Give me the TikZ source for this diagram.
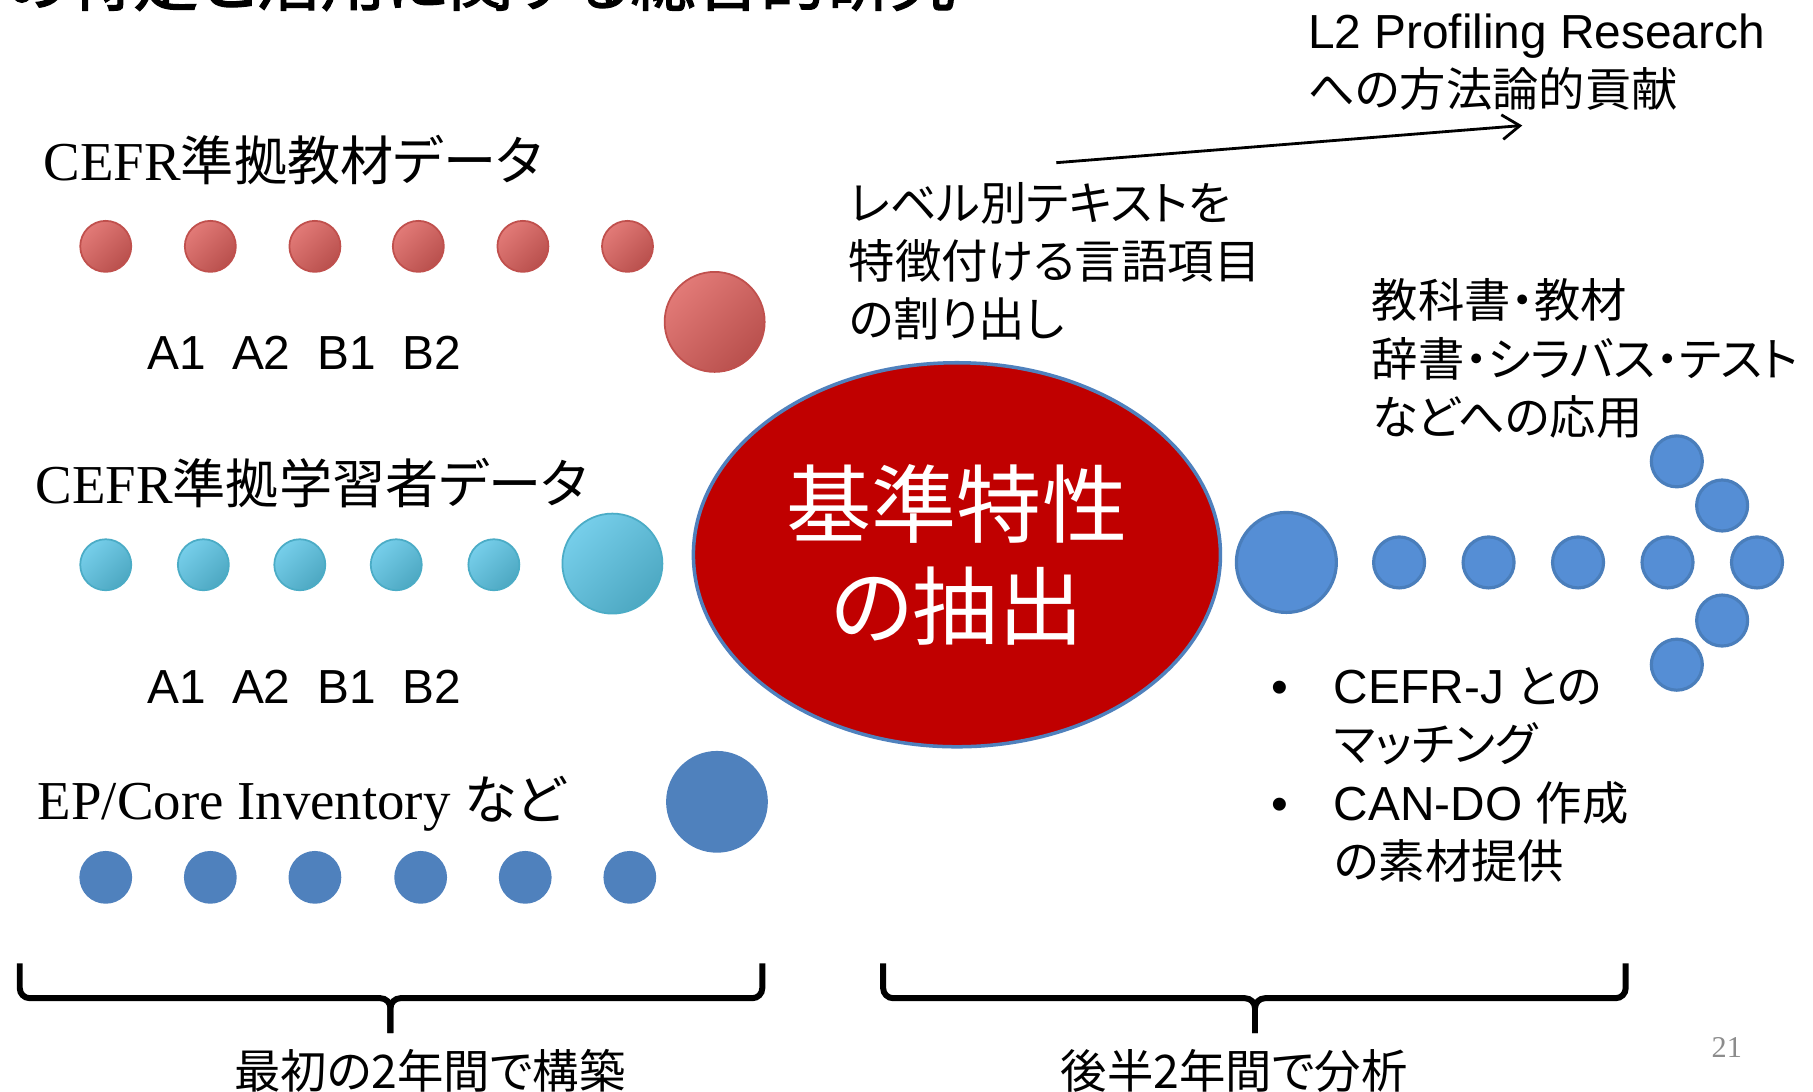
\documentclass[tikz,border=0pt]{standalone}
\usepackage{fontspec}
\setmainfont{Liberation Serif}
\setsansfont{Liberation Sans}
\newfontfamily\jp[Scale=0.97, RawFeature=+palt]{Noto Sans CJK JP}
\newfontfamily\jpbold[FakeBold=2, RawFeature=+palt]{Noto Sans CJK JP}
\definecolor{redlight}{HTML}{E27A77}
\definecolor{reddark}{HTML}{B9504D}
\definecolor{redline}{HTML}{C0504D}
\definecolor{cyanlight}{HTML}{76CEEA}
\definecolor{cyandark}{HTML}{4DA8C2}
\definecolor{cyanline}{HTML}{4BACC6}
\definecolor{blueleft}{HTML}{4F81BD}
\definecolor{blueright}{HTML}{558ED5}
\definecolor{blueline}{HTML}{4A7EBB}
\definecolor{core}{HTML}{C00000}
\definecolor{pagegrey}{HTML}{8C8C8C}
\usetikzlibrary{arrows.meta}
\usetikzlibrary{shapes.geometric}
\tikzstyle{dot}=[circle, inner sep=0pt, outer sep=0pt, minimum size=5.1mm, line width=0.5pt]
\tikzstyle{bigdot}=[minimum size=10mm]
\tikzstyle{reddot}=[dot, draw=redline, top color=redlight, bottom color=reddark, shading angle=45]
\tikzstyle{cyandot}=[dot, draw=cyanline, top color=cyanlight, bottom color=cyandark, shading angle=45]
\tikzstyle{leftdot}=[dot, draw=blueleft, fill=blueleft]
\tikzstyle{rightdot}=[dot, draw=blueline, fill=blueright, line width=0.9pt]
\tikzstyle{head}=[inner sep=0pt, font=\fontsize{15.6}{18}\selectfont\rmfamily]
\tikzstyle{txt}=[inner sep=0pt, align=left, font=\fontsize{13.6}{16.6}\selectfont\sffamily]
\tikzstyle{jtxt}=[txt, font=\fontsize{13.6}{16.6}\selectfont\jp]
\tikzstyle{brace}=[line width=1.7pt, rounded corners=1mm]

\begin{document}
\begin{tikzpicture}[x=0.1162mm, y=-0.1162mm]
    \path [use as bounding box] (0,0) rectangle (1560.2,938.9);
    \clip (0,0) rectangle (1560.2,938.9);
    \fill [white] (0,0) rectangle (1560.2,938.9);
    % title line, cut by the top edge
    \node [inner sep=0pt, anchor=base east, font=\fontsize{18.5}{20}\selectfont\jpbold] (title) at (823,4.5) {の特定と活用に関する総合的研究};
    % materials
    \node [head, anchor=base west] (hmat) at (37,155) {CEFR{\jp 準拠教材データ}};
    \node [reddot] (m1) at (91,212) {};
    \node [reddot] (m2) at (181,212) {};
    \node [reddot] (m3) at (271,212) {};
    \node [reddot] (m4) at (360,212) {};
    \node [reddot] (m5) at (450,212) {};
    \node [reddot] (m6) at (540,212) {};
    \node [reddot, bigdot] (mbig) at (615,277) {};
    \node [txt, anchor=base west] (lvm) at (126,318) {A1~~A2~~B1~~B2};
    % learners
    \node [head, anchor=base west] (hlearn) at (30,433) {CEFR{\jp 準拠学習者データ}};
    \node [cyandot] (l1) at (91,486) {};
    \node [cyandot] (l2) at (175,486) {};
    \node [cyandot] (l3) at (258,486) {};
    \node [cyandot] (l4) at (341,486) {};
    \node [cyandot] (l5) at (425,486) {};
    \node [cyandot, bigdot] (lbig) at (527,485) {};
    \node [txt, anchor=base west] (lvl) at (126,605) {A1~~A2~~B1~~B2};
    % inventories
    \node [head, anchor=base west] (hep) at (32,705) {EP/Core Inventory {\jp など}};
    \node [leftdot, bigdot] (ebig) at (617,690) {};
    \node [leftdot] (e1) at (91,755) {};
    \node [leftdot] (e2) at (181,755) {};
    \node [leftdot] (e3) at (271,755) {};
    \node [leftdot] (e4) at (362,755) {};
    \node [leftdot] (e5) at (452,755) {};
    \node [leftdot] (e6) at (542,755) {};
    % centre
    \node [ellipse, draw=blueleft, line width=1pt, fill=core, minimum width=52.7mm, minimum height=38.4mm, inner sep=0pt,
           text=white, align=center, font=\fontsize{25}{29}\selectfont\jp] (core) at (823.5,477.4) {基準特性\\の抽出};
    \node [jtxt, anchor=base west] (items) at (730,290) {レベル別テキストを\\特徴付ける言語項目\\の割り出し};
    \node [txt, anchor=base west] (l2p) at (1125,92) {L2 Profiling Research\\{\jp への方法論的貢献}};
    \coordinate (arrs) at (909,140);
    \coordinate (arre) at (1310,108);
    \draw [line width=0.8pt, -{Straight Barb[length=5pt, width=7pt]}] (arrs) -- (arre);
    \node [jtxt, anchor=base west] (apps) at (1180,374) {教科書・教材\\辞書・シラバス・テスト\\などへの応用};
    % applications
    \node [rightdot, bigdot] (abig) at (1107,484) {};
    \node [rightdot] (a1) at (1204,484) {};
    \node [rightdot] (a2) at (1281,484) {};
    \node [rightdot] (a3) at (1358,484) {};
    \node [rightdot] (a4) at (1435,484) {};
    \node [rightdot] (a5) at (1512,484) {};
    \node [rightdot] (u1) at (1443,397) {};
    \node [rightdot] (u2) at (1482,435) {};
    \node [rightdot] (d2) at (1482,534) {};
    \node [rightdot] (d1) at (1443,572) {};
    \node [txt, anchor=base west] (uses) at (1094,756) {\makebox[6.2mm][l]{\textbullet}CEFR-J {\jp との}\\\hspace*{6.2mm}{\jp マッチング}\\\makebox[6.2mm][l]{\textbullet}CAN-DO {\jp 作成}\\\hspace*{6.2mm}{\jp の素材提供}};
    % brackets
    \draw [brace] (17,829) -- (17,859) -- (336,859) -- (336,889);
    \draw [brace] (656,829) -- (656,859) -- (336,859) -- (336,889);
    \draw [brace] (760,829) -- (760,859) -- (1080,859) -- (1080,889);
    \draw [brace] (1399,829) -- (1399,859) -- (1080,859) -- (1080,889);
    \node [jtxt, anchor=base] (first) at (370,937) {最初の2年間で構築};
    \node [jtxt, anchor=base] (second) at (1062,937) {後半2年間で分析};
    \node [inner sep=0pt, anchor=base, text=pagegrey, font=\fontsize{8.6}{10}\selectfont\rmfamily] (page) at (1486,910) {21};
\end{tikzpicture}
\end{document}
